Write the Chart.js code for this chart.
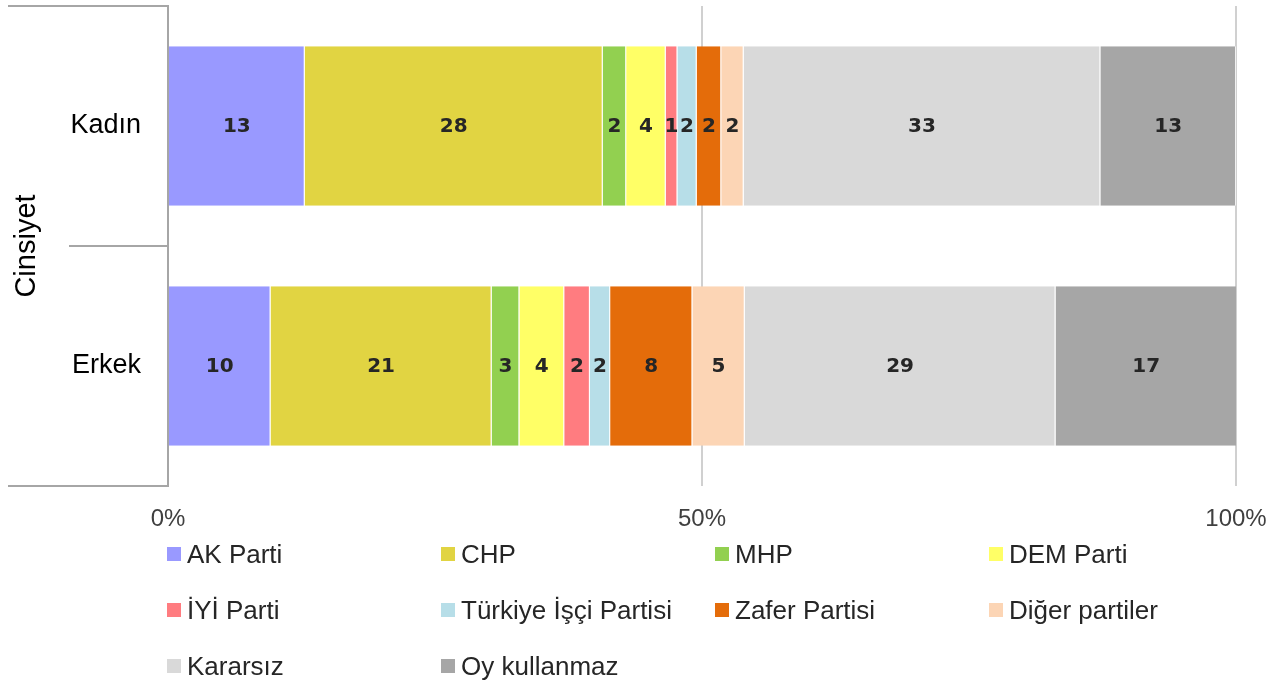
<!DOCTYPE html>
<html>
<head>
<meta charset="utf-8">
<script src="https://cdn.jsdelivr.net/npm/chart.js@4.4.1/dist/chart.umd.min.js"></script>
<style>
  body { margin: 0; background: #fff; }
  #wrap { position: relative; width: 1267px; height: 683px; }
  #legend { position: absolute; left: 0; top: 0; }
  .item { position: absolute; display: flex; align-items: center; height: 28px;
          font-family: 'Liberation Sans', Arial, sans-serif; font-size: 26px; color: #262626; white-space: nowrap; }
  .box { width: 14px; height: 14px; margin-right: 6px; flex: none; }
</style>
</head>
<body>
<div id="wrap">
  <canvas id="chart" width="1267" height="683"></canvas>
  <div id="legend"></div>
</div>
<script>
// kategoriler ve seriler
const categories = ['Kadın', 'Erkek'];
const parties = ['AK Parti', 'CHP', 'MHP', 'DEM Parti', 'İYİ Parti', 'Türkiye İşçi Partisi',
                 'Zafer Partisi', 'Diğer partiler', 'Kararsız', 'Oy kullanmaz'];
const kadin = [12.8, 27.9, 2.2, 3.7, 1.1, 1.8, 2.3, 2.1, 33.4, 12.7];
const erkek = [9.6, 20.7, 2.6, 4.2, 2.4, 1.9, 7.7, 4.9, 29.1, 17.0];
const colors = ['#9999FF', '#E1D442', '#92D050', '#FFFF66', '#FF7C80', '#B7DEE8',
                '#E46C0A', '#FCD5B5', '#D9D9D9', '#A6A6A6'];
const xTicks = [0, 50, 100];
const axisTitle = 'Cinsiyet';

const FONT = "'Liberation Sans', Arial, sans-serif";

// bar icindeki yuvarlanmis degerler
const valueLabels = {
    id: 'valueLabels',
    afterDatasetsDraw(chart) {
        const ctx = chart.ctx;
        ctx.save();
        ctx.font = "bold 20px 'DejaVu Sans', sans-serif";
        ctx.fillStyle = '#262626';
        ctx.textAlign = 'center';
        ctx.textBaseline = 'middle';
        chart.data.datasets.forEach((ds, i) => {
            chart.getDatasetMeta(i).data.forEach((bar, j) => {
                const p = bar.getCenterPoint();
                ctx.fillText(Math.round(ds.data[j]), p.x, p.y + 1);
            });
        });
        ctx.restore();
    }
};

// Excel tarzi kategori grubu cizgileri
const groupLines = {
    id: 'groupLines',
    afterDraw(chart) {
        const ctx = chart.ctx;
        const area = chart.chartArea;
        const y = chart.scales.y;
        const mid = (y.getPixelForValue(0) + y.getPixelForValue(1)) / 2;
        ctx.save();
        ctx.strokeStyle = '#A6A6A6';
        ctx.lineWidth = 2;
        ctx.beginPath();
        ctx.moveTo(8, area.top); ctx.lineTo(area.left, area.top);
        ctx.moveTo(69, mid); ctx.lineTo(area.left, mid);
        ctx.moveTo(8, area.bottom); ctx.lineTo(area.left, area.bottom);
        ctx.stroke();
        ctx.restore();
    }
};

function noPad(s) {
    s.paddingTop = 0; s.paddingBottom = 0; s.paddingLeft = 0; s.paddingRight = 0;
}

const chart = new Chart(document.getElementById('chart').getContext('2d'), {
    type: 'bar',
    data: {
        labels: categories,
        datasets: parties.map((p, i) => ({
            label: p,
            data: [kadin[i], erkek[i]],
            backgroundColor: colors[i],
            borderColor: 'rgba(255,255,255,0.7)',
            borderWidth: { left: 0, right: 1, top: 0, bottom: 0 },
            borderSkipped: false,
            barPercentage: 0.665,
            categoryPercentage: 1
        }))
    },
    options: {
        indexAxis: 'y',
        responsive: false,
        animation: false,
        layout: { padding: { left: 0, right: 31, top: 6, bottom: 147 } },
        plugins: {
            legend: { display: false },
            tooltip: { enabled: false }
        },
        scales: {
            x: {
                stacked: true,
                min: 0,
                max: 100,
                afterBuildTicks: (s) => { s.ticks = xTicks.map(v => ({ value: v })); },
                afterFit: (s) => { s.height = 50; noPad(s); },
                grid: { color: '#D0D0D0', lineWidth: 2, drawTicks: false },
                border: { display: false },
                ticks: {
                    padding: 19,
                    maxRotation: 0,
                    color: '#404040',
                    font: { family: FONT, size: 24 },
                    callback: (v) => v + '%'
                }
            },
            y: {
                stacked: true,
                afterFit: (s) => { s.width = 168; noPad(s); },
                grid: { display: false, drawTicks: false },
                border: { display: true, color: '#A6A6A6', width: 2 },
                ticks: {
                    padding: 27,
                    color: '#000',
                    font: { family: FONT, size: 27 }
                },
                title: {
                    display: true,
                    text: axisTitle,
                    color: '#000',
                    font: { family: FONT, size: 29 },
                    padding: { top: 10, bottom: 0 }
                }
            }
        }
    },
    plugins: [valueLabels, groupLines]
});

// legend: 4 sutun, HTML olarak
const legendEl = document.getElementById('legend');
chart.data.datasets.forEach((ds, i) => {
    const item = document.createElement('div');
    item.className = 'item';
    item.style.left = (167 + (i % 4) * 274) + 'px';
    item.style.top = (540 + Math.floor(i / 4) * 56) + 'px';
    const box = document.createElement('span');
    box.className = 'box';
    box.style.background = ds.backgroundColor;
    const txt = document.createElement('span');
    txt.textContent = ds.label;
    item.appendChild(box);
    item.appendChild(txt);
    legendEl.appendChild(item);
});
</script>
</body>
</html>
